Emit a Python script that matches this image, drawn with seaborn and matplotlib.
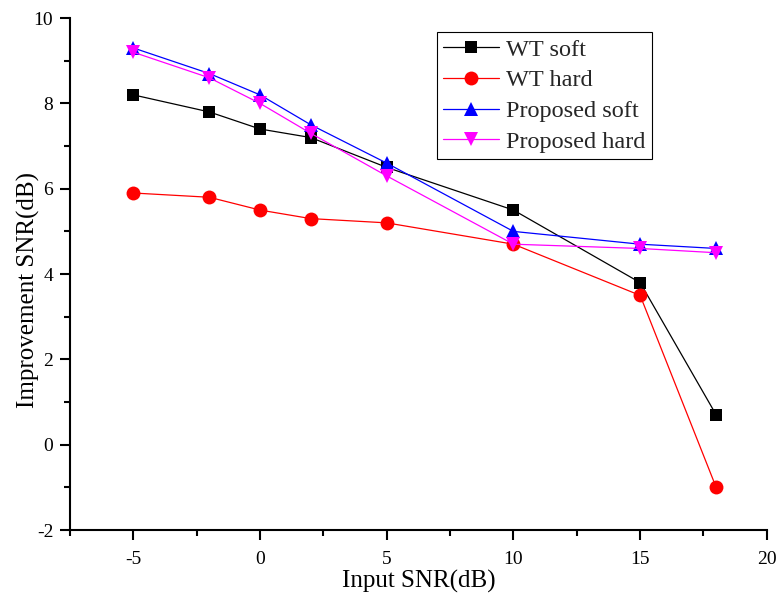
import matplotlib
matplotlib.use("Agg")
import matplotlib.pyplot as plt
from matplotlib.ticker import MultipleLocator
import seaborn as sns
import pandas as pd

input_snr = [-5, -2, 0, 2, 5, 10, 15, 18]
wt_soft = [8.2, 7.8, 7.4, 7.2, 6.5, 5.5, 3.8, 0.7]
wt_hard = [5.9, 5.8, 5.5, 5.3, 5.2, 4.7, 3.5, -1.0]
proposed_soft = [9.3, 8.7, 8.2, 7.5, 6.6, 5.0, 4.7, 4.6]
proposed_hard = [9.2, 8.6, 8.0, 7.3, 6.3, 4.7, 4.6, 4.5]
series_names = ["WT soft", "WT hard", "Proposed soft", "Proposed hard"]

sns.set_theme(style="ticks")
plt.rcParams['font.family'] = ['Liberation Serif', 'DejaVu Serif']
plt.rcParams['axes.unicode_minus'] = False

rows = []
for name, vals in zip(series_names, [wt_soft, wt_hard, proposed_soft, proposed_hard]):
    for x, y in zip(input_snr, vals):
        rows.append({"Input SNR(dB)": x, "Improvement SNR(dB)": y, "series": name})
df = pd.DataFrame(rows)

fig = plt.figure(figsize=(7.76, 6.03), dpi=100)
ax = fig.add_axes([0.0902, 0.121, 0.898, 0.849])

palette = {"WT soft": "black", "WT hard": "red", "Proposed soft": "blue", "Proposed hard": "magenta"}
markers = {"WT soft": "s", "WT hard": "o", "Proposed soft": "^", "Proposed hard": "v"}
sizes = {"WT soft": 9, "WT hard": 10, "Proposed soft": 10, "Proposed hard": 10}

for name in series_names:
    sub = df[df["series"] == name]
    sns.lineplot(data=sub, x="Input SNR(dB)", y="Improvement SNR(dB)", ax=ax,
                 color=palette[name], marker=markers[name], markersize=sizes[name],
                 markeredgewidth=0, linewidth=0.9, label=name, sort=False)

ax.set_xlim(-7.5, 20)
ax.set_ylim(-2, 10)
ax.xaxis.set_major_locator(MultipleLocator(5))
ax.xaxis.set_minor_locator(MultipleLocator(2.5))
ax.yaxis.set_major_locator(MultipleLocator(2))
ax.yaxis.set_minor_locator(MultipleLocator(1))
ax.tick_params(axis="both", which="major", direction="out", length=7, width=1.5,
               labelsize=14, color="black", labelcolor="black")
ax.tick_params(axis="x", which="major", pad=8)
ax.tick_params(axis="y", which="major", pad=5)
ax.tick_params(axis="both", which="minor", direction="out", length=4, width=1.5, color="black")
for s in ["top", "right"]:
    ax.spines[s].set_visible(False)
for s in ["left", "bottom"]:
    ax.spines[s].set_linewidth(1.5)
    ax.spines[s].set_color("black")

ax.set_xlabel("Input SNR(dB)", fontsize=18, color="black")
ax.set_ylabel("Improvement SNR(dB)", fontsize=18, color="black")
ax.xaxis.set_label_coords(0.5, -0.078)
ax.yaxis.set_label_coords(-0.043, 0.469)

leg = ax.legend(loc="upper right", bbox_to_anchor=(0.835, 0.972), fontsize=17.5,
                frameon=True, fancybox=False, edgecolor="black", framealpha=1,
                handlelength=2.3, borderpad=0.25, labelspacing=0.36, handletextpad=0.3,
                borderaxespad=0)
leg.get_frame().set_linewidth(0.8)

fig.savefig("out.png", dpi=100)
